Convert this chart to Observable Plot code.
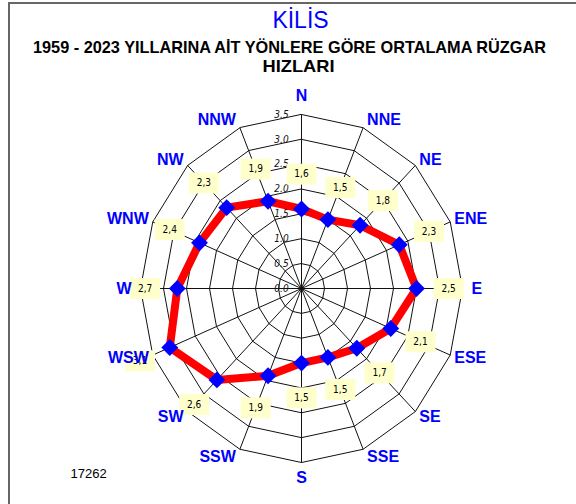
<!DOCTYPE html>
<html>
<head>
<meta charset="utf-8">
<script src="https://cdn.jsdelivr.net/npm/d3@7"></script>
<script src="https://cdn.jsdelivr.net/npm/@observablehq/plot@0.6"></script>
<style>
  html, body { margin: 0; padding: 0; background: #fff; }
  #wrap { position: relative; width: 576px; height: 504px; overflow: hidden; }
  #frame { position: absolute; left: 8px; top: 2px; width: 600px; height: 600px;
           border-left: 2px solid #666; border-top: 2px solid #666; }
  #chart { position: absolute; left: 0; top: 0; }
</style>
</head>
<body>
<div id="wrap"><div id="frame"></div><div id="chart"></div></div>
<script>
const directions = ["N","NNE","NE","ENE","E","ESE","SE","SSE","S","SSW","SW","WSW","W","WNW","NW","NNW"];
const speeds = [1.6,1.5,1.8,2.3,2.5,2.1,1.7,1.5,1.5,1.9,2.6,3.1,2.7,2.4,2.3,1.9];
const speedLabels = ["1,6","1,5","1,8","2,3","2,5","2,1","1,7","1,5","1,5","1,9","2,6","3,1","2,7","2,4","2,3","1,9"];
const ringTicks = [0,0.5,1,1.5,2,2.5,3,3.5];
const ringLabels = ["0.0","0.5","1.0","1.5","2.0","2.5","3.0","3.5"];
const titleText = "KİLİS";
const subtitle1 = "1959 - 2023 YILLARINA AİT YÖNLERE GÖRE ORTALAMA RÜZGAR";
const subtitle2 = "HIZLARI";
const footnote = "17262";

const rMax = 3.5;
const labelOffset = 0.7;
const ang = i => i * Math.PI / 8;
const pt = (r, i) => ({x: r * Math.sin(ang(i)), y: r * Math.cos(ang(i))});

const series = speeds.map((v, i) => ({dir: directions[i], v, lab: speedLabels[i], ...pt(v, i)}));
const labelPts = speeds.map((v, i) => ({lab: speedLabels[i], ...pt(v + labelOffset, i)}));
const rings = ringTicks.filter(t => t > 0).flatMap(t => directions.map((d, i) => ({ring: t, ...pt(t, i)})));
const spokes = directions.map((d, i) => ({...pt(rMax, i)}));
const ringText = ringTicks.map((t, k) => ({t, lab: ringLabels[k]}));

// direction labels: positioned just outside the outer ring vertex
const sx = 161 / 3.5, sy = 174 / 3.5;
const dirPts = directions.map((d, i) => {
  const s = Math.sin(ang(i)), c = Math.cos(ang(i));
  const p = pt(rMax, i);
  let x = p.x, y = p.y;
  if (Math.abs(s) < 1e-6) { y += (c > 0 ? 19 / sy : -15 / sy); }
  else { x += Math.sign(s) * (Math.abs(s) > 0.99 ? 9 : 4) / sx; y += c * 8 / sy; }
  return {d, x, y, side: Math.abs(s) < 1e-6 ? "mid" : (s > 0 ? "right" : "left")};
});

const boxSymbol = { draw(ctx) { ctx.rect(-15, -10.5, 30, 21); } };

const narrow = "'Liberation Sans Narrow', 'Arial Narrow', 'DejaVu Sans Condensed', sans-serif";
const sans = "'Liberation Sans', Arial, sans-serif";

const plot = Plot.plot({
  width: 576, height: 504,
  marginTop: 0, marginBottom: 0, marginLeft: 0, marginRight: 0,
  x: {domain: [-rMax, rMax], range: [301 - 161, 301 + 161], axis: null},
  y: {domain: [-rMax, rMax], range: [288 + 174, 288 - 174], axis: null},
  style: {background: "transparent", fontFamily: sans},
  marks: [
    Plot.line(rings, {x: "x", y: "y", z: "ring", curve: "linear-closed", stroke: "#111", strokeWidth: 1}),
    Plot.link(spokes, {x1: () => 0, y1: () => 0, x2: "x", y2: "y", stroke: "#111", strokeWidth: 1}),
    Plot.text(ringText, {x: () => 0, y: "t", text: "lab", dx: -20, fontSize: 10, fontFamily: narrow, fill: "#111", fontStyle: "italic"}),
    Plot.line(series, {x: "x", y: "y", curve: "linear-closed", stroke: "#FF0000", strokeWidth: 8, strokeLinejoin: "round"}),
    Plot.dot(series, {x: "x", y: "y", symbol: "diamond2", r: 7.6, fill: "#0000FF", stroke: "none"}),
    Plot.dot(labelPts, {x: "x", y: "y", symbol: boxSymbol, r: 5, fill: "#FFFFCC", stroke: "none"}),
    Plot.text(labelPts, {x: "x", y: "y", text: "lab", fontSize: 10, fontFamily: narrow, fill: "#000"}),
    Plot.text(dirPts.filter(d => d.side === "right"), {x: "x", y: "y", text: "d", textAnchor: "start", fontSize: 16, fontWeight: "bold", fill: "#0000FF"}),
    Plot.text(dirPts.filter(d => d.side === "left"), {x: "x", y: "y", text: "d", textAnchor: "end", fontSize: 16, fontWeight: "bold", fill: "#0000FF"}),
    Plot.text(dirPts.filter(d => d.side === "mid"), {x: "x", y: "y", text: "d", textAnchor: "middle", fontSize: 16, fontWeight: "bold", fill: "#0000FF"}),
    Plot.text([titleText], {frameAnchor: "top", lineAnchor: "middle", dx: 12, dy: 20, fontSize: 23, fill: "#0000FF", className: "t-main"}),
    Plot.text([subtitle1], {frameAnchor: "top", lineAnchor: "middle", dx: 1, dy: 47, fontSize: 17, fontWeight: "bold", fill: "#000", className: "t-sub1"}),
    Plot.text([subtitle2], {frameAnchor: "top", lineAnchor: "middle", dx: 10, dy: 66, fontSize: 17, fontWeight: "bold", fill: "#000", className: "t-sub2"}),
    Plot.text([footnote], {frameAnchor: "top-left", lineAnchor: "middle", dx: 70, dy: 473, fontSize: 13, fill: "#000"})
  ]
});

const fit = (cls, len) => {
  plot.querySelectorAll(`.${cls} text`).forEach(t => {
    t.setAttribute("textLength", len);
    t.setAttribute("lengthAdjust", "spacingAndGlyphs");
  });
};
fit("t-sub1", 513);
fit("t-sub2", 72);

document.getElementById("chart").appendChild(plot);
</script>
</body>
</html>
